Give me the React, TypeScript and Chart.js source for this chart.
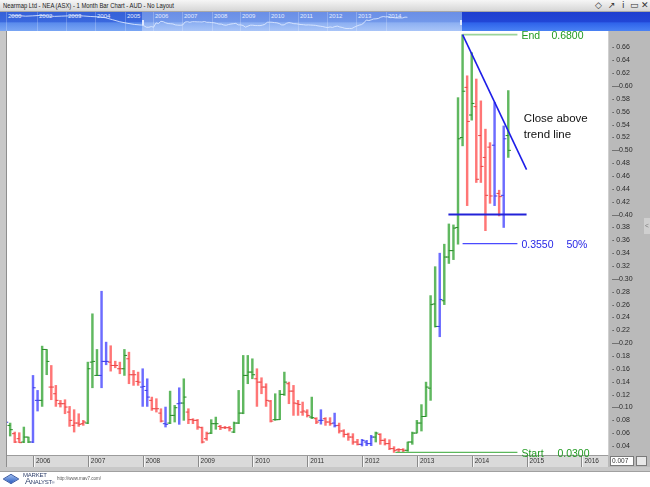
import React, { useEffect, useRef } from "react";
import { Chart, registerables } from "chart.js";

Chart.register(...registerables);

// month index: 0 = Jan 2006, first bar = Jul 2005
const FIRST_MONTH = -6;
const BASE_YEAR = 2006;

// bar colour code per month: g = up trend, r = down trend, b = outside/neutral
const barTrend = (
  "bgrrggbbgg" + "rrrrrrrrgg" + "gbbrrrgrrr" + "bbrrrbggbg" + "rrrrrggrrr" +
  "gggggrrrrg" + "ggrrrrrgrb" + "rrbrrrrrbb" + "bgrrrrrrgg" + "gggggbgggg" + "grgrrrrbrbg"
).split("");

const opens = [
  0.077, 0.072, 0.0592, 0.0514, 0.0462, 0.0539, 0.0462, 0.111, 0.111, 0.1902,
  0.1317, 0.1213, 0.1058, 0.1058, 0.0928, 0.0721, 0.0757, 0.0747, 0.0757, 0.1705,
  0.1498, 0.1498, 0.1716, 0.1705, 0.1653, 0.1602, 0.1602, 0.1757, 0.1509, 0.1405,
  0.1317, 0.1265, 0.111, 0.098, 0.0912, 0.0747, 0.0757, 0.0876, 0.1058, 0.1068,
  0.0928, 0.081, 0.0799, 0.0685, 0.0514, 0.0601, 0.0747, 0.0705, 0.0685, 0.0685,
  0.0617, 0.0757, 0.0912, 0.1498, 0.155, 0.1446, 0.1394, 0.1317, 0.1099, 0.081,
  0.081, 0.1203, 0.1369, 0.1254, 0.1058, 0.0928, 0.0928, 0.0851, 0.0825, 0.0799,
  0.0825, 0.0773, 0.0757, 0.0721, 0.0633, 0.0581, 0.0539, 0.0462, 0.0426, 0.0462,
  0.0437, 0.0539, 0.0581, 0.0488, 0.0437, 0.0359, 0.0343, 0.0343, 0.0333, 0.0462,
  0.0601, 0.0757, 0.0859, 0.13, 0.261, 0.226, 0.266, 0.334, 0.344, 0.38,
  0.52, 0.598, 0.555, 0.568, 0.523, 0.489, 0.505, 0.508, 0.433, 0.43, 0.523,
];
const highs = [
  0.079, 0.0757, 0.0617, 0.0607, 0.0695, 0.0539, 0.1498, 0.1265, 0.1954, 0.1902,
  0.1653, 0.1343, 0.111, 0.112, 0.1016, 0.0965, 0.0902, 0.0799, 0.1705, 0.2457,
  0.1902, 0.2808, 0.2016, 0.196, 0.172, 0.1705, 0.1902, 0.186, 0.1576, 0.155,
  0.1602, 0.1446, 0.1161, 0.1136, 0.098, 0.1006, 0.1254, 0.1032, 0.1306, 0.1446,
  0.098, 0.0825, 0.0814, 0.0695, 0.0617, 0.081, 0.085, 0.0721, 0.0705, 0.0705,
  0.0773, 0.1265, 0.1809, 0.1809, 0.1757, 0.1602, 0.1462, 0.1369, 0.111, 0.1213,
  0.1265, 0.155, 0.1394, 0.1343, 0.111, 0.1084, 0.0965, 0.1161, 0.0841, 0.0965,
  0.0841, 0.0841, 0.0912, 0.0757, 0.0654, 0.0601, 0.0592, 0.0504, 0.0504, 0.0488,
  0.0566, 0.0617, 0.0592, 0.0514, 0.0498, 0.039, 0.0359, 0.0359, 0.0462, 0.0617,
  0.0799, 0.1044, 0.1394, 0.274, 0.319, 0.34, 0.354, 0.3855, 0.384, 0.582,
  0.68, 0.616, 0.652, 0.611, 0.577, 0.533, 0.512, 0.5745, 0.438, 0.538, 0.593,
];
const lows = [
  0.074, 0.0555, 0.0452, 0.0452, 0.0452, 0.0452, 0.0452, 0.0944, 0.1016, 0.1509,
  0.112, 0.1016, 0.1006, 0.0902, 0.0705, 0.0617, 0.0705, 0.0721, 0.0747, 0.1306,
  0.1498, 0.1306, 0.1664, 0.1565, 0.1617, 0.1524, 0.1498, 0.1369, 0.1343, 0.1343,
  0.1016, 0.1016, 0.0954, 0.0928, 0.0773, 0.0695, 0.0747, 0.0773, 0.0737, 0.0799,
  0.0747, 0.0747, 0.0659, 0.0446, 0.0488, 0.0592, 0.066, 0.0654, 0.067, 0.0633,
  0.0607, 0.0747, 0.0902, 0.1369, 0.1446, 0.1016, 0.1213, 0.1016, 0.0773, 0.0799,
  0.081, 0.1187, 0.1058, 0.0876, 0.0876, 0.0876, 0.0851, 0.0825, 0.0747, 0.074,
  0.0721, 0.0721, 0.0695, 0.0601, 0.0539, 0.0488, 0.0426, 0.0415, 0.04, 0.0405,
  0.0405, 0.0462, 0.0426, 0.0415, 0.0343, 0.03, 0.0305, 0.031, 0.0317, 0.0426,
  0.0601, 0.0633, 0.0859, 0.111, 0.225, 0.21, 0.26, 0.324, 0.33, 0.354,
  0.507, 0.414, 0.547, 0.45, 0.45, 0.375, 0.4176, 0.414, 0.398, 0.38, 0.489,
];
const closes = [
  0.077, 0.0654, 0.0462, 0.0452, 0.0539, 0.0462, 0.1306, 0.111, 0.1902, 0.1716,
  0.1317, 0.111, 0.1058, 0.1006, 0.0799, 0.0757, 0.0737, 0.0773, 0.1602, 0.1716,
  0.1498, 0.1716, 0.1716, 0.1653, 0.1653, 0.1602, 0.1809, 0.1509, 0.1509, 0.1394,
  0.1327, 0.1161, 0.098, 0.098, 0.0788, 0.0737, 0.0876, 0.0996, 0.1068, 0.1161,
  0.081, 0.0799, 0.0695, 0.0462, 0.0592, 0.0747, 0.0747, 0.0685, 0.0685, 0.067,
  0.0757, 0.0912, 0.1498, 0.155, 0.1509, 0.1394, 0.1317, 0.111, 0.0788, 0.081,
  0.1203, 0.1394, 0.1254, 0.1068, 0.1047, 0.0944, 0.0876, 0.0841, 0.0773, 0.0799,
  0.0773, 0.0747, 0.0716, 0.0633, 0.0581, 0.0539, 0.0462, 0.0426, 0.0488, 0.0437,
  0.0539, 0.0601, 0.0488, 0.0437, 0.0359, 0.0333, 0.0343, 0.0333, 0.0462, 0.0601,
  0.0757, 0.0859, 0.1317, 0.26, 0.226, 0.268, 0.334, 0.344, 0.379, 0.518,
  0.592, 0.545, 0.573, 0.455, 0.475, 0.43, 0.429, 0.429, 0.428, 0.518, 0.5,
];

const months = opens.map((_, i) => FIRST_MONTH + i);

// earlier history shown only in the navigator strip (quarterly, 2001.0 .. 2005.25)
const navEarlyYears = [
  2001, 2001.25, 2001.5, 2001.75, 2002, 2002.25, 2002.5, 2002.75, 2003, 2003.25,
  2003.5, 2003.75, 2004, 2004.25, 2004.5, 2004.75, 2005, 2005.25,
];
const navEarlyValues = [
  0.7, 0.75, 0.65, 0.7, 0.78, 0.7, 0.62, 0.66, 0.7, 0.74,
  0.68, 0.6, 0.55, 0.45, 0.28, 0.17, 0.12, 0.09,
];

// drawn annotations (month index / price)
const trendX = [94, 108];
const trendY = [0.68, 0.47];
const supportX = [90.9, 108];
const supportY = [0.4, 0.4];
const endX = [94, 106];
const endY = [0.68, 0.68];
const halfX = [94, 106];
const halfY = [0.355, 0.355];
const startX = [79.3, 106];
const startY = [0.03, 0.03];

const levelValues = [0.68, 0.355, 0.03];
const levelLeft = ["End", "0.3550", "Start"];
const levelRight = ["0.6800", "50%", "0.0300"];
const noteLines = ["Close above", "trend line"];
const noteX = 107.4;
const noteY = [0.549, 0.5243];

const X_MIN = -5.69;
const X_MAX = 125.82;
const Y_MIN = 0.026;
const Y_MAX = 0.6857;

const BAR_COLORS: Record<string, string> = {
  g: "rgb(96,184,96)",
  r: "rgb(255,118,118)",
  b: "rgb(108,108,255)",
};
const TICK_COLORS: Record<string, string> = {
  g: "rgb(40,140,40)",
  r: "rgb(232,70,70)",
  b: "rgb(60,60,232)",
};
const GREEN_TEXT = "#229a22";
const BLUE_TEXT = "#2626e6";
const levelColors = [GREEN_TEXT, BLUE_TEXT, GREEN_TEXT];
const levelGap = [30, 45, 36];

const FONT = '"Liberation Sans", Arial, sans-serif';
const PLOT_TOP = 31;

const chromePlugin = {
  id: "chrome",
  beforeDraw(chart: any) {
    const { ctx, chartArea: a, width: W, height: H } = chart;
    const xs = chart.scales.x;
    ctx.save();
    ctx.fillStyle = "#ffffff";
    ctx.fillRect(0, 0, W, H);
    const stripH = 12;
    ctx.fillStyle = "#c8c8c8";
    ctx.fillRect(0, a.top, a.left, a.bottom + stripH + 5 - a.top);
    ctx.fillStyle = "#8e8e8e";
    ctx.fillRect(a.left - 1, a.top, 1, a.bottom + stripH - a.top);
    ctx.fillStyle = "#bababa";
    ctx.fillRect(a.right, a.top, W - a.right, a.bottom + stripH - a.top);
    ctx.fillStyle = "#d0d0d0";
    ctx.fillRect(a.right, a.top, 1, a.bottom - a.top);
    ctx.fillStyle = "#dadada";
    ctx.fillRect(a.left, a.bottom, a.right - a.left, stripH);
    ctx.fillStyle = "#9c9c9c";
    ctx.fillRect(a.left, a.bottom, a.right - a.left, 1);
    ctx.fillStyle = "#c8c8c8";
    ctx.fillRect(0, a.bottom + stripH, W, 4);
    ctx.fillStyle = "#a0a0a0";
    ctx.fillRect(0, a.bottom + stripH + 4, W, 1);
    xs.ticks.forEach((t: any) => {
      const px = Math.round(xs.getPixelForValue(t.value));
      ctx.fillStyle = "#8a8a8a";
      ctx.fillRect(px, a.bottom + 1, 1, stripH - 1);
      ctx.fillStyle = "#f6f6f6";
      ctx.fillRect(px + 1, a.bottom + 1, 1, stripH - 1);
    });
    ctx.fillStyle = "#ffffff";
    ctx.fillRect(a.right + 2, a.bottom + 1, 24, 10);
    ctx.strokeStyle = "#7a7a7a";
    ctx.lineWidth = 1;
    ctx.strokeRect(a.right + 2.5, a.bottom + 1.5, 23, 9);
    ctx.fillStyle = "#e8e8e8";
    ctx.fillRect(a.right + 28, a.bottom + 1, 11, 10);
    ctx.strokeRect(a.right + 28.5, a.bottom + 1.5, 10, 9);
    ctx.fillStyle = "#333";
    ctx.font = "6.5px " + FONT;
    ctx.textBaseline = "middle";
    ctx.fillText("0.007", a.right + 4, a.bottom + 6.5);
    ctx.fillStyle = "#cfcfcf";
    ctx.fillRect(W - 6, 218, 6, 16);
    ctx.fillStyle = "#777";
    ctx.fillText("<", W - 5, 226);
    ctx.restore();
  },
  afterDatasetsDraw(chart: any) {
    const { ctx } = chart;
    const xs = chart.scales.x;
    const ys = chart.scales.y;
    ctx.save();
    ctx.textBaseline = "middle";
    ctx.font = "10.5px " + FONT;
    const lx = xs.getPixelForValue(endX[1]) + 4;
    levelValues.forEach((v, i) => {
      const py = ys.getPixelForValue(v) + 1.5;
      ctx.fillStyle = levelColors[i];
      ctx.fillText(levelLeft[i], lx, py);
      ctx.fillText(levelRight[i], lx + levelGap[i], py);
    });
    ctx.font = "11.5px " + FONT;
    ctx.fillStyle = "#111111";
    noteLines.forEach((t, i) => {
      ctx.fillText(t, xs.getPixelForValue(noteX), ys.getPixelForValue(noteY[i]));
    });
    ctx.restore();
  },
};

const pts = (xsArr: number[], ysArr: number[]) => xsArr.map((x, i) => ({ x, y: ysArr[i] }));

const navYears: [string, number][] = [
  ["2000", 8], ["2002", 39], ["2003", 68], ["2004", 97], ["2005", 127], ["2006", 155],
  ["2007", 184], ["2008", 214], ["2009", 242], ["2010", 271], ["2011", 300],
  ["2012", 329], ["2013", 358], ["2014", 388],
];

export default function App() {
  const ref = useRef<HTMLCanvasElement>(null);
  const navRef = useRef<HTMLCanvasElement>(null);
  useEffect(() => {
    const lineDs = (xa: number[], ya: number[], color: string, w: number) => ({
      type: "line" as const,
      data: pts(xa, ya),
      borderColor: color,
      borderWidth: w,
      pointRadius: 0,
      fill: false,
      tension: 0,
    });
    const tickDs = (offset: number, vals: number[]) => ({
      type: "scatter" as const,
      data: months.map((m, i) => ({ x: m + offset, y: vals[i] })),
      pointStyle: "line",
      pointRadius: 1.4,
      pointBorderWidth: 1,
      pointBorderColor: barTrend.map((c) => TICK_COLORS[c]),
      pointBackgroundColor: barTrend.map((c) => TICK_COLORS[c]),
    });
    const chart = new Chart(ref.current as HTMLCanvasElement, {
      type: "bar",
      data: {
        datasets: [
          lineDs(trendX, trendY, "#1e1ee8", 1.6),
          lineDs(supportX, supportY, "#2222d8", 2),
          lineDs(halfX, halfY, "#4a4aff", 1.2),
          lineDs(endX, endY, "#9ad49a", 1.6),
          lineDs(startX, startY, "#5cb85c", 1.2),
          tickDs(-0.28, opens),
          tickDs(0.28, closes),
          {
            type: "bar",
            data: months.map((m, i) => ({ x: m, y: [lows[i], highs[i]] })),
            backgroundColor: barTrend.map((c) => BAR_COLORS[c]),
            borderWidth: 0,
            barThickness: 1.8,
            grouped: false,
          },
        ] as any,
      },
      options: {
        responsive: false,
        maintainAspectRatio: false,
        animation: false,
        devicePixelRatio: 1,
        events: [],
        layout: { padding: { left: 7, top: PLOT_TOP, right: 0, bottom: 20 } },
        plugins: { legend: { display: false }, tooltip: { enabled: false } },
        scales: {
          x: {
            type: "linear",
            min: X_MIN,
            max: X_MAX,
            offset: false,
            grid: { display: false, drawTicks: false, offset: false },
            border: { display: false },
            ticks: {
              stepSize: 12,
              includeBounds: false,
              autoSkip: false,
              maxRotation: 0,
              align: "start",
              labelOffset: 3,
              padding: 2,
              color: "#333",
              font: { size: 6.5, family: FONT },
              callback: (v: any) => String(BASE_YEAR + Math.round(Number(v) / 12)),
            },
            afterFit: (s: any) => {
              s.height = 12;
            },
          },
          y: {
            type: "linear",
            position: "right",
            min: Y_MIN,
            max: Y_MAX,
            grid: { display: false, drawTicks: false },
            border: { display: false },
            ticks: {
              stepSize: 0.02,
              includeBounds: false,
              autoSkip: false,
              maxTicksLimit: 100,
              padding: 4,
              color: "#2a2a2a",
              font: { size: 7, family: FONT },
              callback: (v: any) => {
                const n = Number(v);
                if (n > 0.67) return "";
                const major = Math.abs(n * 10 - Math.round(n * 10)) < 1e-6;
                return (major ? "\u2014" : "- ") + n.toFixed(2);
              },
            },
            afterFit: (s: any) => {
              s.width = 42;
            },
          },
        },
      } as any,
      plugins: [chromePlugin],
    });

    const navData = [
      ...pts(navEarlyYears, navEarlyValues),
      ...months.map((m, i) => ({ x: BASE_YEAR + m / 12, y: closes[i] })),
    ];
    const nav = new Chart(navRef.current as HTMLCanvasElement, {
      type: "line",
      data: {
        datasets: [
          {
            data: navData,
            borderColor: "rgba(225,235,255,0.85)",
            borderWidth: 1,
            pointRadius: 0,
            tension: 0,
          },
        ],
      },
      options: {
        responsive: false,
        maintainAspectRatio: false,
        animation: false,
        devicePixelRatio: 1,
        events: [],
        layout: { padding: 0 },
        plugins: { legend: { display: false }, tooltip: { enabled: false } },
        scales: {
          x: { type: "linear", min: 2000.62, max: 2023.03, display: false },
          y: { type: "logarithmic", min: 0.0186, max: 1.77, display: false },
        },
      } as any,
    });
    return () => {
      chart.destroy();
      nav.destroy();
    };
  }, []);

  return (
    <div
      style={{
        position: "absolute",
        left: 0,
        top: 0,
        width: 650,
        height: 487,
        overflow: "hidden",
        background: "#fff",
        fontFamily: FONT,
      }}
    >
      <canvas
        ref={ref}
        width={650}
        height={487}
        style={{ position: "absolute", left: 0, top: 0, width: 650, height: 487, display: "block" }}
      />
      {/* title bar */}
      <div
        style={{
          position: "absolute",
          left: 0,
          top: 0,
          width: 650,
          height: 12,
          background: "linear-gradient(#f6f6f6, #d6d6d6)",
          borderBottom: "1px solid #a8a8a8",
          boxSizing: "border-box",
        }}
      >
        <div
          style={{
            position: "absolute",
            left: 3,
            top: 1,
            fontSize: 7,
            lineHeight: "10px",
            color: "#1a1a1a",
            whiteSpace: "nowrap",
            transform: "scaleX(0.84)",
            transformOrigin: "left center",
          }}
        >
          Nearmap Ltd - NEA (ASX) - 1 Month Bar Chart - AUD - No Layout
        </div>
        {[
          ["\u25C7", 595],
          ["\u2197", 608],
          ["i", 622],
          ["\u25AD", 630],
          ["\u2715", 641],
        ].map(([t, x]) => (
          <div
            key={String(x)}
            style={{
              position: "absolute",
              left: x as number,
              top: 0,
              fontSize: 9,
              lineHeight: "11px",
              color: "#333",
              fontFamily: '"DejaVu Sans", sans-serif',
            }}
          >
            {t}
          </div>
        ))}
      </div>
      {/* navigator */}
      <div style={{ position: "absolute", left: 0, top: 12, width: 650, height: PLOT_TOP - 12 }}>
        <div
          style={{
            position: "absolute",
            left: 0,
            top: 0,
            width: 142,
            height: "100%",
            background: "linear-gradient(#3561d8, #3a68de 50%, #5b8cec 58%, #7aa6f4)",
          }}
        />
        <div
          style={{
            position: "absolute",
            left: 142,
            top: 0,
            width: 320,
            height: "100%",
            background: "linear-gradient(#6a8ee6, #7298ea 50%, #8db0f2 58%, #a9c5f8)",
          }}
        />
        <div
          style={{
            position: "absolute",
            left: 462,
            top: 0,
            width: 188,
            height: "100%",
            background: "linear-gradient(#1d3ecf, #2246d6 50%, #2f63ea 58%, #4a82f4)",
          }}
        />
        {navYears.map(([y, x]) => (
          <React.Fragment key={y}>
            <div
              style={{
                position: "absolute",
                left: x - 2,
                top: 0,
                width: 1,
                height: "100%",
                background: "rgba(255,255,255,0.22)",
              }}
            />
            <div
              style={{
                position: "absolute",
                left: x,
                top: 1,
                fontSize: 6,
                lineHeight: "7px",
                color: "#e4ebff",
              }}
            >
              {y}
            </div>
          </React.Fragment>
        ))}
        <canvas
          ref={navRef}
          width={650}
          height={PLOT_TOP - 12}
          style={{ position: "absolute", left: 0, top: 0, width: 650, height: PLOT_TOP - 12, display: "block" }}
        />
        <div style={{ position: "absolute", left: 142, top: 8, width: 2, height: 5, background: "#dfe8ff" }} />
        <div style={{ position: "absolute", left: 460, top: 8, width: 2, height: 5, background: "#dfe8ff" }} />
      </div>
      {/* logo */}
      <div
        style={{
          position: "absolute",
          left: 5,
          top: 473,
          width: 12,
          height: 12,
          transform: "scaleY(0.6) rotate(45deg)",
          background: "linear-gradient(135deg, #9dbdf0, #2a5cc0)",
          border: "1px solid #24489a",
          boxSizing: "border-box",
        }}
      />
      <div
        style={{
          position: "absolute",
          left: 23,
          top: 472,
          fontSize: 6,
          lineHeight: "7px",
          color: "#2e3f6a",
          letterSpacing: -0.2,
        }}
      >
        MARKET
      </div>
      <div
        style={{
          position: "absolute",
          left: 25,
          top: 477,
          fontSize: 9,
          lineHeight: "9px",
          color: "#2e3f6a",
          letterSpacing: -0.3,
          whiteSpace: "nowrap",
        }}
      >
        A<span style={{ fontSize: 6 }}>NALYST</span>
        <span style={{ fontSize: 4 }}>®</span>
      </div>
      <div
        style={{
          position: "absolute",
          left: 57,
          top: 476,
          fontSize: 4.5,
          lineHeight: "6px",
          color: "#555",
          whiteSpace: "nowrap",
        }}
      >
        http://www.mav7.com/
      </div>
    </div>
  );
}
